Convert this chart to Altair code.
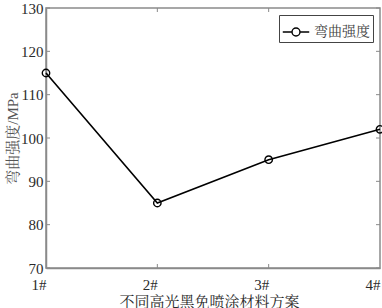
import altair as alt
import pandas as pd

schemes = ["1#", "2#", "3#", "4#"]
strength = [115, 85, 95, 102]
series_name = "弯曲强度"
y_ticks = [70, 80, 90, 100, 110, 120, 130]
inner_x_ticks = ["2#", "3#"]

df = pd.DataFrame({"scheme": schemes, "value": strength, "series": [series_name] * len(schemes)})
ydf = pd.DataFrame({"v": y_ticks})
xdf = pd.DataFrame({"scheme": inner_x_ticks})

FONT = "Liberation Serif, 'Noto Serif CJK SC', 'Noto Sans CJK SC', serif"
AXC = "#8a8a8a"
TXT = "#2a2a2a"
W, H = 334, 260

xscale = alt.Scale(type="point", padding=0, domain=schemes)
yscale = alt.Scale(domain=[70, 130], nice=False, zero=False)

x_enc = alt.X("scheme:N", scale=xscale, sort=schemes,
              axis=alt.Axis(title="不同高光黑免喷涂材料方案", labelAngle=0, ticks=False,
                            domain=True, domainColor=AXC, domainWidth=1.5,
                            labelPadding=16, labelFlush=False,
                            labelOverlap=False, labelBound=False,
                            titleX=W / 2 - 4, titleY=33, titleAlign="center",
                            titleBaseline="middle"))
y_enc = alt.Y("value:Q", scale=yscale,
              axis=alt.Axis(title="弯曲强度/MPa", values=y_ticks, ticks=False,
                            domain=True, domainColor=AXC, domainWidth=1.5,
                            labelPadding=3, grid=False,
                            titleX=-34, titleY=H / 2, titleAngle=270,
                            titleAlign="center", titleBaseline="middle",
                            titleColor="#555"))

legend_path = "M-1,0L-0.3,0M0.3,0L1,0M-0.3,0A0.3,0.3 0 1,0 0.3,0A0.3,0.3 0 1,0 -0.3,0"

line = alt.Chart(df).mark_line(strokeWidth=1.6).encode(
    x=x_enc, y=y_enc,
    color=alt.Color("series:N", scale=alt.Scale(range=["black"]),
                    legend=alt.Legend(title=None, orient="top-right", offset=7,
                                      symbolType=legend_path, symbolSize=700,
                                      symbolStrokeWidth=1.4, symbolStrokeColor="black",
                                      symbolFillColor="transparent",
                                      strokeColor="#444", fillColor="white",
                                      padding=3, labelFontSize=14, labelFont=FONT,
                                      labelColor="#444", cornerRadius=0)))

pts = alt.Chart(df).mark_point(filled=False, size=55, strokeWidth=1.4, color="black", opacity=1).encode(
    x=alt.X("scheme:N", scale=xscale, sort=schemes),
    y=alt.Y("value:Q", scale=yscale))

ytick_l = alt.Chart(ydf).mark_rule(color=AXC, strokeWidth=1).encode(
    y=alt.Y("v:Q", scale=yscale), x=alt.value(0), x2=alt.value(4))
ytick_r = alt.Chart(ydf).mark_rule(color=AXC, strokeWidth=1).encode(
    y=alt.Y("v:Q", scale=yscale), x=alt.value(W - 4), x2=alt.value(W))
xtick_b = alt.Chart(xdf).mark_rule(color=AXC, strokeWidth=1).encode(
    x=alt.X("scheme:N", scale=xscale, sort=schemes), y=alt.value(H - 4), y2=alt.value(H))
xtick_t = alt.Chart(xdf).mark_rule(color=AXC, strokeWidth=1).encode(
    x=alt.X("scheme:N", scale=xscale, sort=schemes), y=alt.value(0), y2=alt.value(4))

chart = alt.layer(ytick_l, ytick_r, xtick_b, xtick_t, line, pts).properties(
    width=W, height=H,
    autosize=alt.AutoSizeParams(type="none"),
    padding={"left": 46, "top": 8, "right": 2, "bottom": 40},
    background="white",
).configure_view(stroke=AXC, strokeWidth=1.5).configure_axis(
    labelFont=FONT, titleFont=FONT, labelFontSize=15, titleFontSize=15,
    labelColor=TXT, titleColor=TXT, titleFontWeight="normal",
)

chart.save("out.html", embed_options={"renderer": "svg", "actions": False})
